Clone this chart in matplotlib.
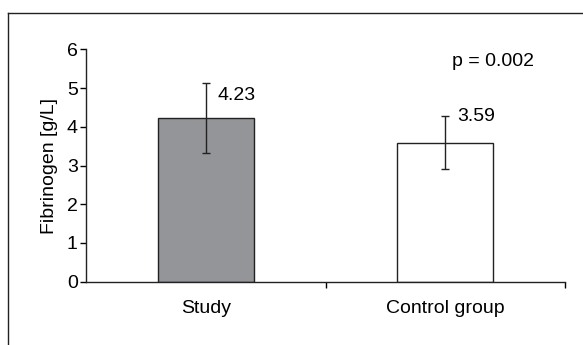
import matplotlib
matplotlib.use("Agg")
import matplotlib.pyplot as plt
from matplotlib.lines import Line2D

plt.rcParams['font.family'] = ['Liberation Sans', 'DejaVu Sans']

groups = ['Study', 'Control group']
means = [4.23, 3.59]
sds = [0.91, 0.69]
bar_labels = ['4.23', '3.59']
p_text = 'p = 0.002'

FS = 14

fig = plt.figure(figsize=(5.83, 3.45), dpi=100)
ax = fig.add_axes([86 / 583, 1 - 281.7 / 345, (565 - 86) / 583, (281.7 - 49.3) / 345])

x = [0, 1]
ax.bar(x, means, width=0.4, color=['#939598', 'white'], edgecolor='#222222', linewidth=1.0,
       yerr=sds, error_kw=dict(ecolor='#222222', elinewidth=1.0, capsize=2.8, capthick=1.0), zorder=2)

ax.text(0.05, 4.81, bar_labels[0], fontsize=FS, va='center', ha='left')
ax.text(1.05, 4.27, bar_labels[1], fontsize=FS, va='center', ha='left')
ax.text(1.03, 5.68, p_text, fontsize=FS, va='center', ha='left')

ax.set_xlim(-0.5, 1.5)
ax.set_ylim(0, 6)
ax.set_yticks(range(0, 7))
ax.tick_params(axis='y', labelsize=FS, length=4, direction='out', width=1.0, pad=2)
ax.set_xticks([0.5, 1.5])
ax.set_xticklabels([])
ax.set_xticks(x, minor=True)
ax.set_xticklabels(groups, minor=True)
ax.tick_params(axis='x', which='minor', length=0, labelsize=FS, pad=13)
ax.tick_params(axis='x', which='major', length=4, width=1.0, direction='out')
ax.set_ylabel('Fibrinogen [g/L]', fontsize=FS, labelpad=6)

for s in ['top', 'right']:
    ax.spines[s].set_visible(False)
for s in ['left', 'bottom']:
    ax.spines[s].set_color('#222222')
    ax.spines[s].set_linewidth(1.0)

# outer frame (top and left only)
fig.add_artist(Line2D([8 / 583, 1.0], [1 - 13 / 345, 1 - 13 / 345], color='#222222', lw=1.0))
fig.add_artist(Line2D([8 / 583, 8 / 583], [1 - 13 / 345, 0.0], color='#222222', lw=1.0))

fig.savefig('out.png', dpi=100)
